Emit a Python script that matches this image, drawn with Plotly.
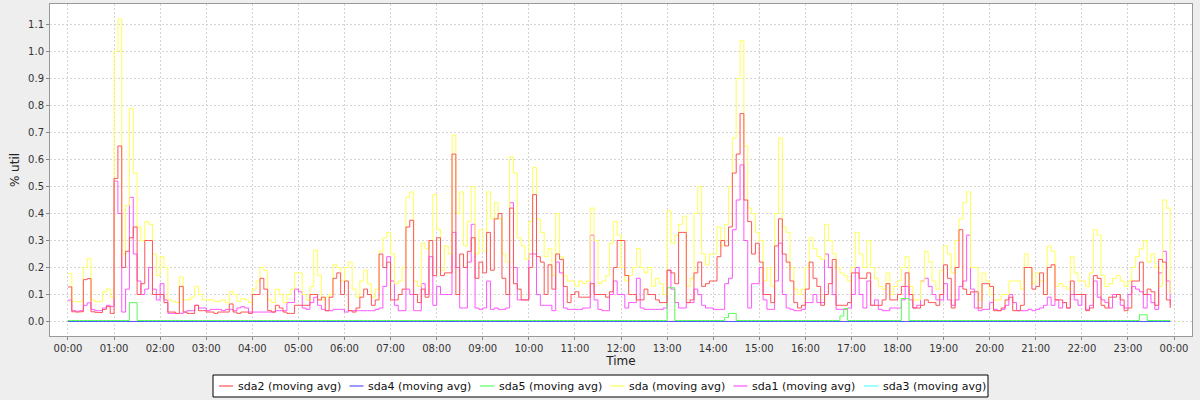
import pandas as pd
import plotly.graph_objects as go

# ---- data: 5-minute steps, one row per hour (00:00 .. 23:55) ----
times = pd.date_range("2000-01-01 00:00", periods=288, freq="5min")

sda_rows = [
    [0.178, 0.075, 0.073, 0.075, 0.20, 0.233, 0.08, 0.073, 0.075, 0.11, 0.12, 0.09],
    [1.0, 1.12, 0.25, 0.43, 0.79, 0.55, 0.35, 0.30, 0.37, 0.36, 0.25, 0.17],
    [0.24, 0.2, 0.08, 0.075, 0.07, 0.165, 0.08, 0.08, 0.09, 0.13, 0.1, 0.08],
    [0.08, 0.08, 0.075, 0.075, 0.08, 0.07, 0.11, 0.1, 0.075, 0.085, 0.08, 0.07],
    [0.12, 0.15, 0.2, 0.19, 0.08, 0.07, 0.12, 0.1, 0.07, 0.1, 0.12, 0.18],
    [0.18, 0.1, 0.08, 0.13, 0.264, 0.17, 0.08, 0.09, 0.1, 0.21, 0.2, 0.15],
    [0.2, 0.22, 0.12, 0.09, 0.15, 0.19, 0.14, 0.09, 0.12, 0.26, 0.31, 0.33],
    [0.25, 0.14, 0.15, 0.2, 0.46, 0.48, 0.15, 0.13, 0.29, 0.27, 0.3, 0.47],
    [0.34, 0.19, 0.28, 0.25, 0.69, 0.4, 0.48, 0.28, 0.37, 0.5, 0.25, 0.34],
    [0.26, 0.48, 0.38, 0.44, 0.38, 0.25, 0.22, 0.61, 0.55, 0.31, 0.28, 0.23],
    [0.37, 0.57, 0.38, 0.33, 0.24, 0.27, 0.17, 0.4, 0.24, 0.17, 0.15, 0.15],
    [0.13, 0.15, 0.14, 0.15, 0.42, 0.3, 0.14, 0.15, 0.17, 0.29, 0.37, 0.32],
    [0.2, 0.15, 0.17, 0.2, 0.27, 0.2, 0.18, 0.2, 0.13, 0.16, 0.14, 0.1],
    [0.41, 0.29, 0.32, 0.36, 0.39, 0.13, 0.16, 0.4, 0.5, 0.25, 0.21, 0.25],
    [0.25, 0.35, 0.28, 0.36, 0.5, 0.68, 0.9, 1.04, 0.65, 0.42, 0.4, 0.33],
    [0.3, 0.15, 0.2, 0.13, 0.4, 0.68, 0.35, 0.33, 0.2, 0.12, 0.1, 0.12],
    [0.2, 0.31, 0.27, 0.24, 0.23, 0.36, 0.3, 0.25, 0.2, 0.18, 0.17, 0.15],
    [0.2, 0.33, 0.25, 0.2, 0.3, 0.2, 0.16, 0.13, 0.12, 0.18, 0.1, 0.13],
    [0.15, 0.2, 0.24, 0.13, 0.08, 0.08, 0.15, 0.26, 0.22, 0.15, 0.12, 0.19],
    [0.28, 0.25, 0.18, 0.3, 0.38, 0.44, 0.48, 0.2, 0.2, 0.08, 0.18, 0.15],
    [0.1, 0.08, 0.08, 0.1, 0.1, 0.15, 0.15, 0.15, 0.12, 0.25, 0.2, 0.14],
    [0.18, 0.15, 0.1, 0.28, 0.26, 0.13, 0.14, 0.13, 0.12, 0.24, 0.18, 0.15],
    [0.15, 0.13, 0.18, 0.34, 0.32, 0.17, 0.13, 0.14, 0.16, 0.17, 0.15, 0.13],
    [0.15, 0.2, 0.24, 0.27, 0.3, 0.22, 0.25, 0.2, 0.13, 0.45, 0.42, 0.1],
]

sda2_rows = [
    [0.128, 0.036, 0.035, 0.036, 0.155, 0.159, 0.036, 0.034, 0.033, 0.045, 0.055, 0.03],
    [0.53, 0.65, 0.2, 0.26, 0.31, 0.35, 0.1, 0.14, 0.3, 0.3, 0.1, 0.1],
    [0.1, 0.07, 0.035, 0.035, 0.03, 0.13, 0.035, 0.03, 0.03, 0.06, 0.04, 0.04],
    [0.035, 0.035, 0.03, 0.035, 0.035, 0.035, 0.065, 0.035, 0.03, 0.035, 0.035, 0.03],
    [0.1, 0.1, 0.16, 0.12, 0.04, 0.035, 0.06, 0.05, 0.035, 0.03, 0.03, 0.06],
    [0.06, 0.06, 0.06, 0.1, 0.1, 0.08, 0.09, 0.04, 0.09, 0.16, 0.18, 0.1],
    [0.15, 0.04, 0.035, 0.05, 0.09, 0.12, 0.1, 0.06, 0.08, 0.25, 0.2, 0.22],
    [0.08, 0.08, 0.1, 0.12, 0.35, 0.375, 0.1, 0.07, 0.12, 0.09, 0.3, 0.17],
    [0.31, 0.17, 0.18, 0.18, 0.62, 0.1, 0.25, 0.2, 0.26, 0.31, 0.16, 0.22],
    [0.18, 0.33, 0.19, 0.38, 0.4, 0.16, 0.1, 0.42, 0.14, 0.12, 0.08, 0.08],
    [0.2, 0.47, 0.24, 0.22, 0.1, 0.21, 0.12, 0.25, 0.23, 0.13, 0.07, 0.1],
    [0.11, 0.09, 0.09, 0.09, 0.14, 0.1, 0.1, 0.1, 0.09, 0.11, 0.2, 0.3],
    [0.3, 0.17, 0.1, 0.1, 0.08, 0.08, 0.12, 0.1, 0.1, 0.08, 0.07, 0.07],
    [0.19, 0.18, 0.14, 0.33, 0.33, 0.07, 0.08, 0.18, 0.22, 0.13, 0.14, 0.15],
    [0.15, 0.24, 0.3, 0.28, 0.35, 0.55, 0.62, 0.77, 0.45, 0.37, 0.25, 0.29],
    [0.22, 0.1, 0.1, 0.07, 0.28, 0.38, 0.25, 0.22, 0.15, 0.07, 0.05, 0.06],
    [0.12, 0.22, 0.16, 0.13, 0.06, 0.1, 0.14, 0.23, 0.06, 0.06, 0.06, 0.07],
    [0.18, 0.18, 0.16, 0.16, 0.18, 0.06, 0.06, 0.06, 0.08, 0.14, 0.08, 0.08],
    [0.1, 0.13, 0.18, 0.1, 0.05, 0.05, 0.06, 0.08, 0.07, 0.07, 0.06, 0.1],
    [0.21, 0.16, 0.05, 0.2, 0.34, 0.12, 0.1, 0.11, 0.11, 0.05, 0.14, 0.14],
    [0.13, 0.04, 0.04, 0.05, 0.08, 0.09, 0.04, 0.04, 0.06, 0.2, 0.2, 0.12],
    [0.13, 0.18, 0.1, 0.2, 0.21, 0.08, 0.08, 0.07, 0.05, 0.15, 0.1, 0.1],
    [0.1, 0.04, 0.05, 0.17, 0.16, 0.06, 0.05, 0.09, 0.09, 0.1, 0.08, 0.04],
    [0.05, 0.15, 0.15, 0.22, 0.1, 0.12, 0.11, 0.06, 0.23, 0.22, 0.08, 0.05],
]

sda1_rows = [
    [0.079, 0.04, 0.038, 0.04, 0.06, 0.069, 0.045, 0.04, 0.04, 0.05, 0.06, 0.055],
    [0.52, 0.4, 0.035, 0.12, 0.46, 0.25, 0.15, 0.1, 0.12, 0.2, 0.12, 0.08],
    [0.14, 0.08, 0.03, 0.03, 0.03, 0.03, 0.035, 0.04, 0.04, 0.06, 0.05, 0.05],
    [0.04, 0.045, 0.045, 0.045, 0.04, 0.045, 0.045, 0.04, 0.05, 0.055, 0.05, 0.035],
    [0.035, 0.035, 0.035, 0.035, 0.035, 0.035, 0.04, 0.04, 0.04, 0.07, 0.07, 0.12],
    [0.11, 0.05, 0.045, 0.07, 0.09, 0.06, 0.045, 0.04, 0.04, 0.045, 0.045, 0.045],
    [0.035, 0.04, 0.04, 0.04, 0.04, 0.04, 0.04, 0.04, 0.045, 0.05, 0.13, 0.24],
    [0.15, 0.06, 0.04, 0.04, 0.12, 0.1, 0.04, 0.04, 0.14, 0.1, 0.24, 0.06],
    [0.13, 0.1, 0.1, 0.1, 0.33, 0.2, 0.05, 0.05, 0.22, 0.36, 0.05, 0.045],
    [0.05, 0.15, 0.045, 0.05, 0.045, 0.045, 0.05, 0.44, 0.2, 0.08, 0.08, 0.08],
    [0.25, 0.25, 0.1, 0.06, 0.06, 0.06, 0.04, 0.22, 0.18, 0.05, 0.045, 0.045],
    [0.045, 0.045, 0.05, 0.05, 0.32, 0.08, 0.045, 0.04, 0.04, 0.1, 0.15, 0.1],
    [0.1, 0.05, 0.07, 0.07, 0.16, 0.05, 0.045, 0.045, 0.045, 0.045, 0.045, 0.05],
    [0.19, 0.12, 0.07, 0.05, 0.05, 0.07, 0.07, 0.12, 0.1, 0.06, 0.05, 0.05],
    [0.045, 0.045, 0.045, 0.14, 0.16, 0.34, 0.45, 0.58, 0.3, 0.05, 0.14, 0.14],
    [0.2, 0.08, 0.045, 0.045, 0.15, 0.29, 0.1, 0.05, 0.045, 0.04, 0.04, 0.045],
    [0.07, 0.07, 0.1, 0.07, 0.07, 0.25, 0.2, 0.1, 0.045, 0.045, 0.045, 0.05],
    [0.1, 0.2, 0.1, 0.05, 0.15, 0.06, 0.08, 0.045, 0.04, 0.04, 0.05, 0.05],
    [0.05, 0.08, 0.13, 0.08, 0.05, 0.06, 0.15, 0.16, 0.13, 0.1, 0.08, 0.08],
    [0.14, 0.08, 0.06, 0.08, 0.13, 0.15, 0.32, 0.12, 0.05, 0.04, 0.045, 0.045],
    [0.07, 0.045, 0.04, 0.045, 0.06, 0.1, 0.07, 0.04, 0.04, 0.04, 0.045, 0.04],
    [0.045, 0.05, 0.06, 0.09, 0.06, 0.08, 0.05, 0.07, 0.05, 0.1, 0.08, 0.06],
    [0.1, 0.045, 0.06, 0.15, 0.09, 0.08, 0.07, 0.05, 0.1, 0.1, 0.06, 0.05],
    [0.1, 0.13, 0.12, 0.11, 0.05, 0.1, 0.07, 0.045, 0.18, 0.26, 0.15, 0.06],
]

b = 0.0037
sda5_rows = [
    [b, b, b, b, b, b, b, b, b, b, b, b],
    [b, b, b, b, 0.07, 0.07, b, b, b, b, b, b],
    [b, b, b, b, b, b, b, b, b, b, b, b],
    [b, b, b, b, b, b, b, b, b, b, b, b],
    [b, b, b, b, b, b, b, b, b, b, b, b],
    [b, b, b, b, b, b, b, b, b, b, b, b],
    [b, b, b, b, b, b, b, b, b, b, b, b],
    [b, b, b, b, b, b, b, b, b, b, b, b],
    [b, b, b, b, b, b, b, b, b, b, b, b],
    [b, b, b, b, b, b, b, b, b, b, b, b],
    [b, b, b, b, b, b, b, b, b, b, b, b],
    [b, b, b, b, b, b, b, b, b, b, b, b],
    [b, b, b, b, b, b, b, b, b, b, b, b],
    [0.125, 0.125, b, b, b, b, b, b, b, b, b, b],
    [b, b, b, 0.015, 0.03, 0.03, b, b, b, b, b, b],
    [b, b, b, b, b, b, b, b, b, b, b, b],
    [b, b, b, b, b, b, b, b, b, 0.02, 0.048, b],
    [b, b, b, b, b, b, b, b, b, b, b, b],
    [b, 0.085, 0.085, b, b, b, b, b, b, b, b, b],
    [b, b, b, b, b, b, b, b, b, b, b, b],
    [b, b, b, b, b, b, b, b, b, b, b, b],
    [b, b, b, b, b, b, b, b, b, b, b, b],
    [b, b, b, b, b, b, b, b, b, b, b, b],
    [b, b, b, 0.025, 0.025, b, b, b, b, b, b, b],
]

z = 0.0
sda4_rows = [[z, z, z, z, z, z, z, z, z, z, z, z] for _ in range(24)]
sda3_rows = [[z, z, z, z, z, z, z, z, z, z, z, z] for _ in range(24)]


def flat(rows):
    return [v for r in rows for v in r]


series = {
    "sda2": flat(sda2_rows),
    "sda4": flat(sda4_rows),
    "sda5": flat(sda5_rows),
    "sda": flat(sda_rows),
    "sda1": flat(sda1_rows),
    "sda3": flat(sda3_rows),
}
colors = {
    "sda2": "#FF5555",
    "sda4": "#5555FF",
    "sda5": "#55FF55",
    "sda": "#FFFF55",
    "sda1": "#FF55FF",
    "sda3": "#55FFFF",
}
legend_order = ["sda2", "sda4", "sda5", "sda", "sda1", "sda3"]
draw_order = ["sda3", "sda1", "sda", "sda5", "sda4", "sda2"]

FONT = "DejaVu Sans"
W, H = 1200, 400
PL, PR, PT, PB = 50, 1192, 4, 336  # plot area in pixels


def px(x):
    return (x - PL) / (PR - PL)


def py(y):
    return (PB - y) / (PB - PT)


fig = go.Figure()
for name in draw_order:
    fig.add_trace(
        go.Scatter(
            x=times,
            y=series[name],
            mode="lines",
            name=f"{name} (moving avg)",
            line=dict(color=colors[name], width=1, shape="hv"),
            showlegend=False,
        )
    )

# ---- legend drawn as a framed box (JFreeChart style) ----
LEG_L, LEG_R, LEG_T, LEG_B = 213, 988, 375, 397
shapes = [
    dict(type="rect", xref="paper", yref="paper",
         x0=px(LEG_L), x1=px(LEG_R), y0=py(LEG_B), y1=py(LEG_T),
         line=dict(color="black", width=1), fillcolor="white", layer="above")
]
annotations = []
item_starts = [219, 349.5, 480, 610.5, 733.5, 864]
ymid = (LEG_T + LEG_B) / 2
for name, x0 in zip(legend_order, item_starts):
    shapes.append(dict(type="line", xref="paper", yref="paper",
                       x0=px(x0), x1=px(x0 + 14), y0=py(ymid), y1=py(ymid),
                       line=dict(color=colors[name], width=1.2), layer="above"))
    annotations.append(dict(xref="paper", yref="paper", x=px(x0 + 16.5), y=py(ymid),
                            xanchor="left", yanchor="middle", showarrow=False,
                            text=f"{name} (moving avg)",
                            font=dict(family=FONT, size=11, color="#111111")))

fig.update_layout(
    width=W,
    height=H,
    margin=dict(l=PL, r=W - PR, t=PT, b=H - PB, autoexpand=False),
    paper_bgcolor="#EEEEEE",
    plot_bgcolor="white",
    font=dict(family=FONT, size=11, color="#333333"),
    showlegend=False,
    shapes=shapes,
    annotations=annotations,
)

fig.update_xaxes(
    type="date",
    range=["1999-12-31 23:36:36", "2000-01-02 00:23:24"],
    tickformat="%H:%M",
    dtick=3600000,
    tick0="2000-01-01 00:00",
    showgrid=True,
    gridcolor="#D4D4D4",
    griddash="2px,2px",
    gridwidth=1,
    ticks="outside",
    ticklen=3,
    tickcolor="#888888",
    showline=True,
    linecolor="#999999",
    mirror=True,
    zeroline=False,
    automargin=False,
    tickfont=dict(family=FONT, size=10, color="#333333"),
    title=dict(text="Time", font=dict(family=FONT, size=12, color="#222222"), standoff=2),
)
fig.update_yaxes(
    range=[-0.0537, 1.17593],
    dtick=0.1,
    tick0=0,
    tickformat=".1f",
    showgrid=True,
    gridcolor="#D4D4D4",
    griddash="2px,2px",
    gridwidth=1,
    ticks="outside",
    ticklen=3,
    tickcolor="#888888",
    showline=True,
    linecolor="#999999",
    mirror=True,
    zeroline=False,
    automargin=False,
    tickfont=dict(family=FONT, size=10, color="#333333"),
    title=dict(text="% util", font=dict(family=FONT, size=12, color="#222222"), standoff=5),
)

fig.write_html(
    "out.html",
    config={"displayModeBar": False},
    post_script="document.body.style.margin='0';document.body.style.background='#EEEEEE';",
)
